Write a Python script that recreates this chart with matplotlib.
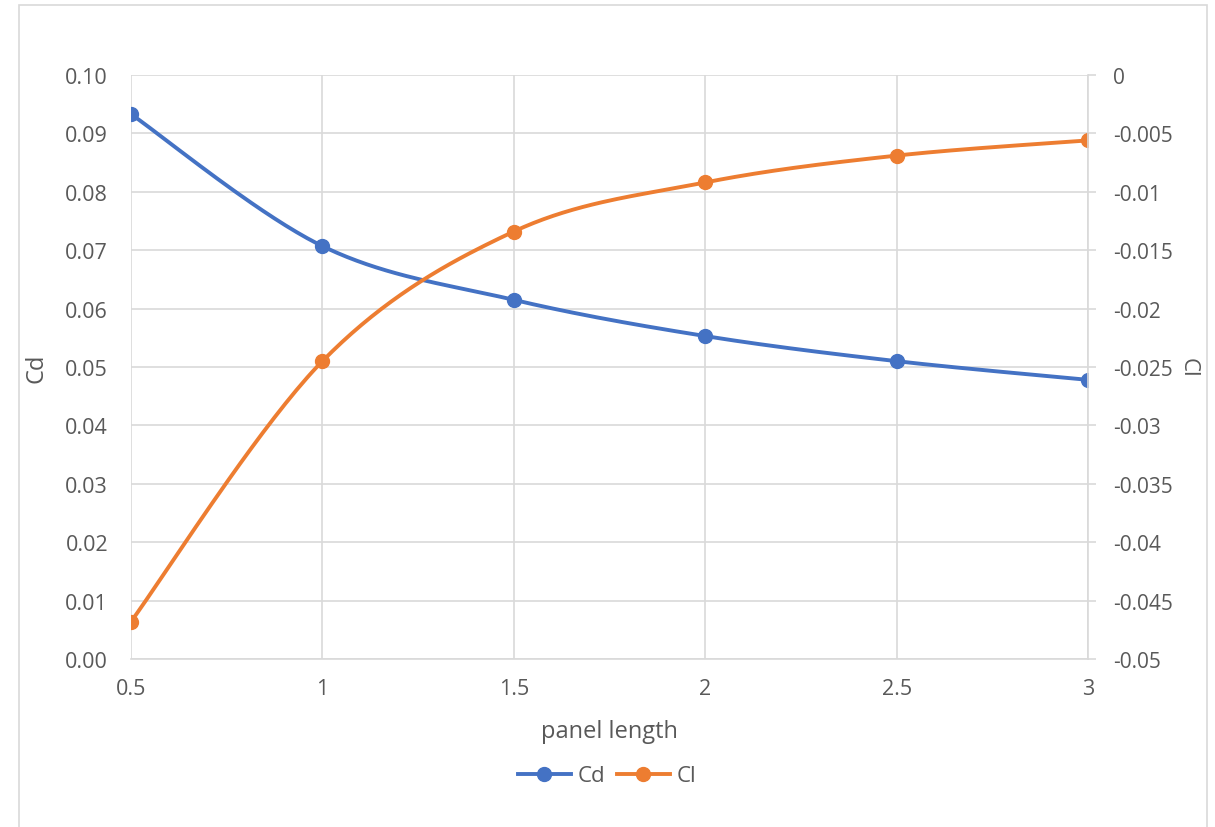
import numpy as np
import matplotlib.pyplot as plt
from matplotlib.patches import Rectangle

# dados
panel_length = [0.5, 1, 1.5, 2, 2.5, 3]
cd = [0.0933, 0.0707, 0.0615, 0.0553, 0.0510, 0.0478]
cl = [-0.0468, -0.0245, -0.0134, -0.0092, -0.0069, -0.0056]

blue = '#4472C4'
orange = '#ED7D31'
grey = '#595959'
grid = '#D9D9D9'


def smooth(x, y, n=40):
    # curva suavizada tipo Excel (Catmull-Rom / Bezier)
    x = np.asarray(x, float)
    y = np.asarray(y, float)
    px = np.concatenate([[x[0]], x, [x[-1]]])
    py = np.concatenate([[y[0]], y, [y[-1]]])
    xs, ys = [], []
    t = np.linspace(0, 1, n)
    for i in range(1, len(px) - 2):
        p0 = np.array([px[i], py[i]])
        p3 = np.array([px[i + 1], py[i + 1]])
        p1 = p0 + (np.array([px[i + 1], py[i + 1]]) - np.array([px[i - 1], py[i - 1]])) / 6
        p2 = p3 - (np.array([px[i + 2], py[i + 2]]) - np.array([px[i], py[i]])) / 6
        b = ((1 - t) ** 3)[:, None] * p0 + (3 * (1 - t) ** 2 * t)[:, None] * p1 \
            + (3 * (1 - t) * t ** 2)[:, None] * p2 + (t ** 3)[:, None] * p3
        xs.extend(b[:, 0])
        ys.extend(b[:, 1])
    return xs, ys


plt.rcParams['font.family'] = ['Open Sans', 'DejaVu Sans']

fig = plt.figure(figsize=(12.15, 8.28), dpi=100)
fig.patches.append(Rectangle((19 / 1215, -0.01), (1207 - 19) / 1215, 1 - 6 / 828 + 0.01,
                             transform=fig.transFigure, fill=False,
                             edgecolor='#D9D9D9', linewidth=1.2))

ax = fig.add_axes([131 / 1215, 1 - 660 / 828, (1088 - 131) / 1215, (660 - 76) / 828])
ax2 = ax.twinx()

ax.set_xlim(0.5, 3)
ax.set_ylim(0, 0.10)
ax2.set_ylim(-0.05, 0)

ax.set_xticks(panel_length)
ax.set_xticklabels(['0.5', '1', '1.5', '2', '2.5', '3'])
ax.set_yticks(np.arange(0, 0.101, 0.01))
ax.set_yticklabels([f'{v:.2f}' for v in np.arange(0, 0.101, 0.01)])
ticks2 = np.arange(-0.05, 0.0001, 0.005)
ax2.set_yticks(ticks2)
ax2.set_yticklabels(['-0.05', '-0.045', '-0.04', '-0.035', '-0.03', '-0.025',
                     '-0.02', '-0.015', '-0.01', '-0.005', '0'])

ax.grid(True, color=grid, linewidth=1.2)
ax.set_axisbelow(True)
for a in (ax, ax2):
    for s in a.spines.values():
        s.set_visible(False)
ax.spines['bottom'].set_visible(True)
ax.spines['bottom'].set_color(grid)
ax.spines['bottom'].set_linewidth(1.2)
ax2.spines['right'].set_visible(True)
ax2.spines['right'].set_color(grid)
ax2.spines['right'].set_linewidth(1.2)

ax.tick_params(axis='y', length=0, labelsize=15.5, labelcolor=grey, pad=16.5)
ax.tick_params(axis='x', length=0, labelsize=15.5, labelcolor=grey, pad=14)
ax2.tick_params(axis='y', length=6, color=grid, width=1.2, labelsize=15, labelcolor=grey, pad=12)

sx, sy = smooth(panel_length, cd)
ax.plot(sx, sy, color=blue, linewidth=2.8, solid_capstyle='round')
ax.plot(panel_length, cd, 'o', color=blue, markersize=10)
sx, sy = smooth(panel_length, cl)
ax2.plot(sx, sy, color=orange, linewidth=2.8, solid_capstyle='round')
ax2.plot(panel_length, cl, 'o', color=orange, markersize=10)

ax.set_xlabel('panel length', fontsize=17, color=grey, labelpad=14)
ax.set_ylabel('Cd', fontsize=17, color=grey, labelpad=12)
ax2.set_ylabel('Cl', fontsize=16, color=grey, rotation=270, va='center', ha='center')
ax2.yaxis.set_label_coords((1188 - 131) / 957, 0.5)

h1, = ax.plot([], [], '-o', color=blue, linewidth=2.8, markersize=10)
h2, = ax.plot([], [], '-o', color=orange, linewidth=2.8, markersize=10)
fig.legend([h1, h2], ['Cd', 'Cl'], loc='center', bbox_to_anchor=(607 / 1215, 1 - 777 / 828),
           ncol=2, frameon=False, fontsize=16, labelcolor=grey, handlelength=2.4,
           handletextpad=0.3, columnspacing=0.5)

plt.savefig('out.png', dpi=100)
